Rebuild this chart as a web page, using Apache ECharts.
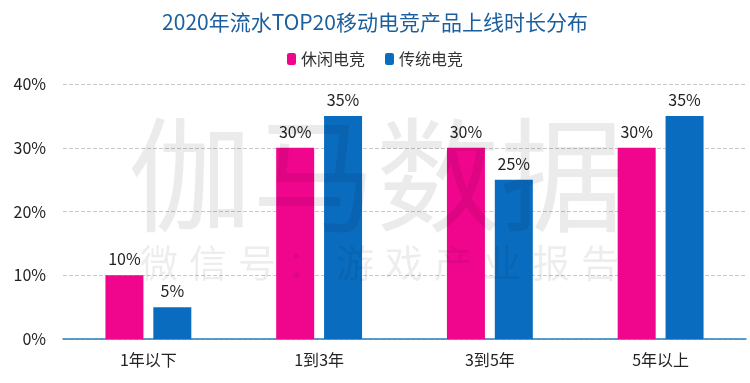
<!DOCTYPE html>
<html><head><meta charset="utf-8">
<script src="https://cdn.jsdelivr.net/npm/echarts@6/dist/echarts.min.js"></script>
<style>html,body{margin:0;padding:0;background:#fff}#c{width:750px;height:383px}</style>
</head><body><div id="c"></div>
<script>
const categories = ['1年以下', '1到3年', '3到5年', '5年以上'];
const casualValues = [10, 30, 30, 30];
const traditionalValues = [5, 35, 25, 35];
const yTicks = [0, 10, 20, 30, 40];
const seriesNames = ['休闲电竞', '传统电竞'];

const font = '"Noto Sans CJK SC", "Noto Sans", sans-serif';
const wmLine2 = '微信号：游戏产业报告';
const graphics = [
  { type: 'text', left: 128, top: 113, silent: true, z: 100,
    style: { text: '伽马数据', fontSize: 124, fill: 'rgba(0,0,0,0.08)', fontFamily: font } }
];
wmLine2.split('').forEach((ch, i) => {
  graphics.push({ type: 'text', left: 140 + i * 49, top: 244, silent: true, z: 100,
    style: { text: ch, fontSize: 38, fill: 'rgba(0,0,0,0.07)', fontFamily: font } });
});

const chart = echarts.init(document.getElementById('c'));
chart.setOption({
  animation: false,
  textStyle: { fontFamily: font },
  title: {
    text: '2020年流水TOP20移动电竞产品上线时长分布',
    left: 'center', top: 7,
    textStyle: { color: '#1b5f9e', fontSize: 21, fontWeight: 'normal', fontFamily: font }
  },
  legend: {
    data: seriesNames, top: 46, left: 'center',
    itemWidth: 9, itemHeight: 12, itemGap: 20,
    textStyle: { color: '#333', fontSize: 16, fontFamily: font }
  },
  graphic: graphics,
  grid: { left: 63, right: 4, top: 84, bottom: 44 },
  xAxis: {
    type: 'category', data: categories,
    axisLine: { lineStyle: { color: '#2a7fc0', width: 1.5 } },
    axisTick: { show: false },
    axisLabel: { color: '#222', fontSize: 16, margin: 13, fontFamily: font }
  },
  yAxis: {
    type: 'value', min: yTicks[0], max: yTicks[yTicks.length - 1], interval: 10,
    axisLine: { show: false }, axisTick: { show: false },
    axisLabel: { color: '#222', fontSize: 16, margin: 17, formatter: v => v + '%', fontFamily: font },
    splitLine: { lineStyle: { color: '#c8c8c8', type: 'dashed' } }
  },
  series: [
    { name: seriesNames[0], type: 'bar', data: casualValues, barWidth: 38, barGap: '26%',
      itemStyle: { color: '#f0068d' },
      label: { show: true, position: 'top', distance: 8, formatter: p => p.value + '%', color: '#222', fontSize: 16, fontFamily: font } },
    { name: seriesNames[1], type: 'bar', data: traditionalValues, barWidth: 38,
      itemStyle: { color: '#0a6cbf' },
      label: { show: true, position: 'top', distance: 8, formatter: p => p.value + '%', color: '#222', fontSize: 16, fontFamily: font } }
  ]
});
</script></body></html>
